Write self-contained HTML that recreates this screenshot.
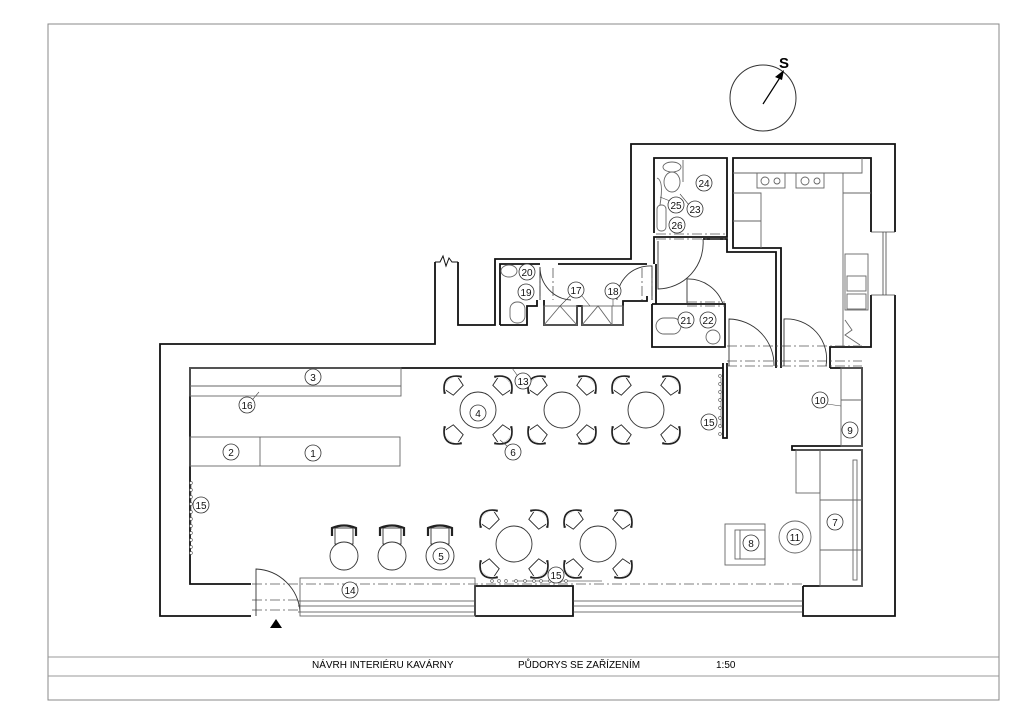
<!DOCTYPE html>
<html><head><meta charset="utf-8"><style>
html,body{margin:0;padding:0;background:#fff}
svg{display:block}
text{font-family:"Liberation Sans",sans-serif}
</style></head><body>
<svg width="1024" height="724" viewBox="0 0 1024 724" xmlns="http://www.w3.org/2000/svg">
<defs>
<g id="chair">
<path d="M-9,-4 Q0,-13 9,-4 L7,6 L-7,6 Z" fill="#fff" stroke="#222" stroke-width="0.9"/>
<path d="M-12,-1 Q0,-18 12,-1" fill="none" stroke="#222" stroke-width="2.2"/>
<path d="M-10,-2 Q0,-15 10,-2" fill="none" stroke="#fff" stroke-width="0.8"/>
</g>
<g id="table">
<use href="#chair" transform="translate(-24,-24) rotate(-45)"/>
<use href="#chair" transform="translate(24,-24) rotate(45)"/>
<use href="#chair" transform="translate(-24,24) rotate(-135)"/>
<use href="#chair" transform="translate(24,24) rotate(135)"/>
<circle r="18" fill="#fff" stroke="#333" stroke-width="0.9"/>
</g>
<g id="stool">
<rect x="-9" y="-28" width="18" height="16" fill="#fff" stroke="#333" stroke-width="0.9"/>
<path d="M-12,-20 L-12,-28 Q0,-33 12,-28 L12,-20" fill="none" stroke="#222" stroke-width="2.2"/>
<circle r="14" fill="#fff" stroke="#333" stroke-width="0.9"/>
</g>
</defs>
<rect x="48" y="24" width="951" height="676" fill="none" stroke="#888" stroke-width="1"/>
<line x1="48" y1="657" x2="999" y2="657" stroke="#999"/>
<line x1="48" y1="676" x2="999" y2="676" stroke="#999"/>
<text x="312" y="668" font-size="10">NÁVRH INTERIÉRU KAVÁRNY</text>
<text x="518" y="668" font-size="10">PŮDORYS SE ZAŘÍZENÍM</text>
<text x="716" y="668" font-size="10">1:50</text>

<circle cx="763" cy="98" r="33" fill="none" stroke="#333"/>
<line x1="763" y1="104" x2="781" y2="76" stroke="#000" stroke-width="1.2"/>
<path d="M784,70 L775,77 L782,80 Z" fill="#000"/>
<text x="779" y="68" font-size="15" font-weight="bold">S</text>

<g fill="none" stroke="#111" stroke-width="1.8">
<polyline points="435,262 435,344 160,344 160,616 251,616"/>
<polyline points="458,262 458,325 495,325 495,259 631,259 631,144 895,144 895,232"/>
<polyline points="895,295 895,616 803,616 803,586"/>
<polyline points="475,616 475,586 573,586 573,616 475,616"/>
<polyline points="251,584 190,584 190,368 723,368"/>
<polyline points="723,363 723,438 727,438 727,363"/>
<polyline points="803,586 862,586 862,450 792,450 792,446 862,446 862,368 830,368"/>
<polyline points="500,325 500,264 540,264"/>
<polyline points="500,325 527,325 527,306 537,306 537,300"/>
<polyline points="544,300 544,325 577,325 577,306 582,306 582,325 623,325 623,301 647,301 647,296"/>
<polyline points="558,264 647,264"/>
<polyline points="654,264 654,237 727,237 727,158 654,158 654,233"/>
<polyline points="703,239 727,239 727,252 776,252 776,368"/>
<polyline points="781,368 781,248 733,248 733,158 871,158 871,232"/>
<polyline points="871,295 871,347 830,347 830,368"/>
<polyline points="652,304 725,304 725,347 652,347 652,304"/>
<polyline points="656,264 656,304"/>
</g>
<g stroke="#444" stroke-width="0.8" fill="none">
<line x1="871" y1="232" x2="895" y2="232"/><line x1="871" y1="295" x2="895" y2="295"/>
<line x1="883" y1="232" x2="883" y2="295"/><line x1="886" y1="232" x2="886" y2="295"/>
<line x1="298" y1="601" x2="475" y2="601"/><line x1="298" y1="606" x2="475" y2="606"/><line x1="298" y1="612" x2="475" y2="612"/>
<line x1="573" y1="601" x2="803" y2="601"/><line x1="573" y1="606" x2="803" y2="606"/><line x1="573" y1="612" x2="803" y2="612"/>
</g>
<g stroke="#555" stroke-width="0.8" fill="none" stroke-dasharray="10,3,2,3">
<line x1="252" y1="584" x2="803" y2="584"/>
<line x1="252" y1="600" x2="298" y2="600"/><line x1="252" y1="610" x2="298" y2="610"/>
<line x1="727" y1="346" x2="862" y2="346"/><line x1="727" y1="361" x2="862" y2="361"/><line x1="727" y1="366" x2="862" y2="366"/>
<line x1="656" y1="239" x2="727" y2="239"/><line x1="656" y1="234" x2="727" y2="234"/>
<line x1="540" y1="268" x2="540" y2="300"/><line x1="553" y1="268" x2="553" y2="300"/>
<line x1="642" y1="268" x2="642" y2="300"/><line x1="652" y1="268" x2="652" y2="300"/>
<line x1="687" y1="302" x2="725" y2="302"/><line x1="687" y1="306" x2="725" y2="306"/>
</g>
<g stroke="#333" stroke-width="0.9" fill="none">
<path d="M256,616 L256,569 A46,46 0 0 1 300,612"/>
<path d="M540,300 L540,267 A33,33 0 0 0 571,300"/>
<path d="M652,300 L652,266 A33,33 0 0 0 617,300"/>
<path d="M658,241 L658,289 A46,46 0 0 0 703,239"/>
<path d="M687,304 L687,279 A37,37 0 0 1 723,304"/>
<path d="M729,366 L729,319 A46,46 0 0 1 774,366"/>
<path d="M784,366 L784,319 A40,40 0 0 1 826,366"/>
</g>
<path d="M270,628 L276,619 L282,628 Z" fill="#000"/>
<g stroke="#666" stroke-width="0.9" fill="none">
<rect x="190" y="368" width="211" height="28"/><line x1="190" y1="386" x2="401" y2="386"/>
<rect x="190" y="437" width="210" height="29"/><line x1="260" y1="437" x2="260" y2="466"/>
<rect x="300" y="578" width="175" height="38"/>
<polyline points="733,173 862,173 862,158"/>
<polyline points="761,248 761,193 733,193"/><line x1="733" y1="221" x2="761" y2="221"/>
<polyline points="843,173 843,346"/><line x1="843" y1="193" x2="871" y2="193"/>
<rect x="757" y="173" width="28" height="15"/><rect x="796" y="173" width="28" height="15"/>
<circle cx="765" cy="181" r="4"/><circle cx="777" cy="181" r="3"/>
<circle cx="805" cy="181" r="4"/><circle cx="817" cy="181" r="3"/>
<rect x="845" y="254" width="23" height="56"/><rect x="847" y="276" width="19" height="15"/><rect x="847" y="294" width="19" height="15"/>
<polyline points="845,320 852,330 845,335 860,345"/>
<rect x="841" y="368" width="21" height="78"/><line x1="841" y1="400" x2="862" y2="400"/>
<rect x="820" y="450" width="42" height="136"/><rect x="853" y="460" width="4" height="120"/>
<line x1="820" y1="500" x2="862" y2="500"/><line x1="820" y1="550" x2="862" y2="550"/>
<rect x="796" y="450" width="24" height="43"/>
<rect x="725" y="524" width="40" height="41"/><rect x="735" y="530" width="30" height="29"/><line x1="740" y1="530" x2="740" y2="559"/>
<circle cx="795" cy="537" r="16"/>
<rect x="544" y="306" width="33" height="19"/><rect x="582" y="306" width="41" height="19"/>
<polyline points="544,325 560,306 577,325"/><polyline points="582,325 598,306 612,325"/><line x1="612" y1="306" x2="612" y2="325"/>
<ellipse cx="509" cy="271" rx="8" ry="6"/><rect x="510" y="302" width="15" height="21" rx="7"/>
<ellipse cx="672" cy="182" rx="8" ry="10"/><ellipse cx="672" cy="167" rx="9" ry="5"/>
<line x1="683" y1="160" x2="683" y2="182"/>
<rect x="657" y="205" width="9" height="26" rx="4"/><path d="M657,178 Q664,180 660,205"/>
<rect x="656" y="318" width="25" height="16" rx="8"/>
<circle cx="713" cy="337" r="7"/>
</g>
<g fill="none" stroke="#666" stroke-width="0.7">
<path d="M191,482 v48 M512,581 h90 M721,378 v50"/>
</g>
<g fill="#fff" stroke="#555" stroke-width="0.6">
<circle cx="191" cy="483" r="1.4"/><circle cx="191" cy="490" r="1.4"/><circle cx="191" cy="497" r="1.4"/><circle cx="191" cy="504" r="1.4"/><circle cx="191" cy="512" r="1.4"/><circle cx="191" cy="519" r="1.4"/><circle cx="191" cy="526" r="1.4"/><circle cx="191" cy="533" r="1.4"/><circle cx="191" cy="540" r="1.4"/><circle cx="191" cy="547" r="1.4"/><circle cx="191" cy="553" r="1.4"/>
<circle cx="492" cy="581" r="1.4"/><circle cx="499" cy="581" r="1.4"/><circle cx="506" cy="581" r="1.4"/><circle cx="516" cy="581" r="1.4"/><circle cx="525" cy="581" r="1.4"/><circle cx="534" cy="581" r="1.4"/><circle cx="541" cy="581" r="1.4"/><circle cx="550" cy="581" r="1.4"/><circle cx="560" cy="581" r="1.4"/><circle cx="566" cy="581" r="1.4"/>
<circle cx="720" cy="376" r="1.4"/><circle cx="720" cy="384" r="1.4"/><circle cx="720" cy="392" r="1.4"/><circle cx="720" cy="400" r="1.4"/><circle cx="720" cy="408" r="1.4"/><circle cx="720" cy="418" r="1.4"/><circle cx="720" cy="426" r="1.4"/><circle cx="720" cy="434" r="1.4"/>
</g>
<use href="#table" x="478" y="410"/><use href="#table" x="562" y="410"/><use href="#table" x="646" y="410"/>
<use href="#table" x="514" y="544"/><use href="#table" x="598" y="544"/>
<use href="#stool" x="344" y="556"/><use href="#stool" x="392" y="556"/><use href="#stool" x="440" y="556"/>
<g stroke="#444" stroke-width="0.6" fill="none">
<line x1="253" y1="399" x2="259" y2="392"/><line x1="507" y1="446" x2="500" y2="440"/><line x1="517" y1="375" x2="512" y2="368"/>
<line x1="813" y1="402" x2="841" y2="406"/><line x1="570" y1="296" x2="560" y2="306"/><line x1="582" y1="296" x2="590" y2="306"/><line x1="613" y1="298" x2="613" y2="306"/>
<line x1="689" y1="205" x2="680" y2="194"/><line x1="670" y1="201" x2="660" y2="197"/>
</g>
<g font-size="10" text-anchor="middle" fill="#111">
<g fill="#fff" stroke="#333" stroke-width="0.8">
<circle cx="313" cy="453" r="8"/><circle cx="231" cy="452" r="8"/><circle cx="313" cy="377" r="8"/><circle cx="247" cy="405" r="8"/><circle cx="478" cy="413" r="8"/><circle cx="513" cy="452" r="8"/><circle cx="523" cy="381" r="8"/><circle cx="709" cy="422" r="8"/><circle cx="201" cy="505" r="8"/><circle cx="556" cy="575" r="8"/><circle cx="350" cy="590" r="8"/><circle cx="441" cy="556" r="8"/><circle cx="751" cy="543" r="8"/><circle cx="795" cy="537" r="8"/><circle cx="835" cy="522" r="8"/><circle cx="820" cy="400" r="8"/><circle cx="850" cy="430" r="8"/><circle cx="576" cy="290" r="8"/><circle cx="613" cy="291" r="8"/><circle cx="526" cy="292" r="8"/><circle cx="527" cy="272" r="8"/><circle cx="686" cy="320" r="8"/><circle cx="708" cy="320" r="8"/><circle cx="695" cy="209" r="8"/><circle cx="704" cy="183" r="8"/><circle cx="676" cy="205" r="8"/><circle cx="677" cy="225" r="8"/>
</g>
<text x="313" y="457">1</text><text x="231" y="456">2</text><text x="313" y="381">3</text><text x="247" y="409">16</text><text x="478" y="417">4</text><text x="513" y="456">6</text><text x="523" y="385">13</text><text x="709" y="426">15</text><text x="201" y="509">15</text><text x="556" y="579">15</text><text x="350" y="594">14</text><text x="441" y="560">5</text><text x="751" y="547">8</text><text x="795" y="541">11</text><text x="835" y="526">7</text><text x="820" y="404">10</text><text x="850" y="434">9</text><text x="576" y="294">17</text><text x="613" y="295">18</text><text x="526" y="296">19</text><text x="527" y="276">20</text><text x="686" y="324">21</text><text x="708" y="324">22</text><text x="695" y="213">23</text><text x="704" y="187">24</text><text x="676" y="209">25</text><text x="677" y="229">26</text>
</g>
<polyline points="435,262 440,262 443,256 446,266 449,258 452,262 458,262" fill="none" stroke="#111" stroke-width="1"/>
</svg>
</body></html>
